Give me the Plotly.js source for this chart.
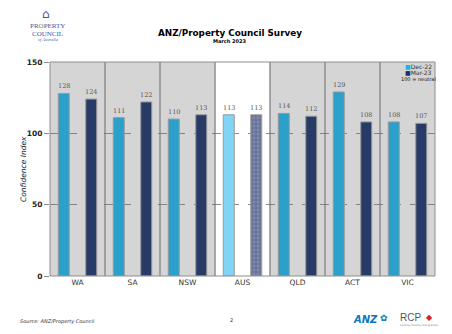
<!DOCTYPE html>
<html>
<head>
<meta charset="utf-8">
<script src="https://cdn.plot.ly/plotly-3.0.1.min.js"></script>
<style>html,body{margin:0;padding:0;background:#fff;}#chart{width:452px;height:334px;}</style>
</head>
<body>
<div id="chart"></div>
<script>
const categories = ['WA', 'SA', 'NSW', 'AUS', 'QLD', 'ACT', 'VIC'];
const dec22 = [128, 111, 110, 113, 114, 129, 108];
const mar23 = [124, 122, 113, 113, 112, 108, 107];
const yTicks = [0, 50, 100, 150];
const highlightCat = 'AUS';

const xIdx = categories.map((c, i) => i);
const isHi = categories.map(c => c === highlightCat);

const decColor = '#2ba0cb', marColor = '#283b66';
const decHi = '#80d4f6', marHi = '#7a87b3';
const labelFont = { family: 'DejaVu Serif', size: 6.5, color: '#555555' };

const traceDec = {
  type: 'bar', x: xIdx, y: dec22, name: 'Dec-22',
  marker: { color: isHi.map(h => h ? decHi : decColor), line: { color: '#9a9a9a', width: 1 } },
  hoverinfo: 'skip'
};
const traceMar = {
  type: 'bar', x: xIdx, y: mar23, name: 'Mar-23',
  marker: {
    color: isHi.map(h => h ? marHi : marColor),
    line: { color: '#9a9a9a', width: 1 },
    pattern: { shape: isHi.map(h => h ? '+' : ''), fillmode: 'overlay', fgcolor: '#a9b3d6', size: 4, solidity: 0.35 }
  },
  hoverinfo: 'skip'
};

const shapes = [];
categories.forEach((c, i) => {
  if (!isHi[i]) {
    shapes.push({ type: 'rect', xref: 'x', yref: 'paper', x0: i - 0.5, x1: i + 0.5, y0: 0, y1: 1,
      fillcolor: '#d5d5d5', line: { width: 0 }, layer: 'below' });
  }
});
for (let i = 0; i < categories.length - 1; i++) {
  shapes.push({ type: 'line', xref: 'x', yref: 'paper', x0: i + 0.5, x1: i + 0.5, y0: 0, y1: 1,
    line: { color: '#8e8e8e', width: 1.5 }, layer: 'below' });
}
shapes.push({ type: 'rect', xref: 'paper', yref: 'paper', x0: 0, x1: 1, y0: 0, y1: 1,
  line: { color: '#8e8e8e', width: 1 }, layer: 'above', fillcolor: 'rgba(0,0,0,0)' });

const P = (px) => (px - 50) / 385;
const Q = (py) => (276 - py) / 214;

// value labels drawn through the data axes
const valueLabels = [];
xIdx.forEach((xi, i) => {
  valueLabels.push({ text: String(dec22[i]), xref: 'x', yref: 'y', x: xi - 0.25, y: dec22[i], yshift: 1,
    showarrow: false, font: labelFont, xanchor: 'center', yanchor: 'bottom' });
  valueLabels.push({ text: String(mar23[i]), xref: 'x', yref: 'y', x: xi + 0.25, y: mar23[i], yshift: 1,
    showarrow: false, font: labelFont, xanchor: 'center', yanchor: 'bottom' });
});

const annotations = valueLabels.concat([
  { text: '<b>ANZ/Property Council Survey</b>', xref: 'paper', yref: 'paper', x: P(230), y: Q(33),
    showarrow: false, font: { family: 'DejaVu Sans', size: 8.8, color: '#000' }, xanchor: 'center', yanchor: 'middle' },
  { text: '<b>March 2023</b>', xref: 'paper', yref: 'paper', x: P(230), y: Q(40.5),
    showarrow: false, font: { family: 'DejaVu Sans', size: 5, color: '#000' }, xanchor: 'center', yanchor: 'middle' },
  { text: 'Confidence Index', xref: 'paper', yref: 'paper', x: P(23), y: 0.5, textangle: -90,
    showarrow: false, font: { family: 'DejaVu Sans', size: 7.5, color: '#222', style: 'italic' }, xanchor: 'center', yanchor: 'middle' },
  { text: '<span style="color:#1fb0e8">■</span>Dec-22', xref: 'paper', yref: 'paper', x: P(403), y: Q(66.5),
    showarrow: false, font: { family: 'DejaVu Sans', size: 6, color: '#333' }, xanchor: 'left', yanchor: 'middle' },
  { text: '<span style="color:#1f2f6b">■</span>Mar-23', xref: 'paper', yref: 'paper', x: P(403), y: Q(73),
    showarrow: false, font: { family: 'DejaVu Sans', size: 6, color: '#333' }, xanchor: 'left', yanchor: 'middle' },
  { text: '100 = neutral', xref: 'paper', yref: 'paper', x: P(418), y: Q(79),
    showarrow: false, font: { family: 'DejaVu Sans', size: 5, color: '#111' }, xanchor: 'center', yanchor: 'middle' },
  { text: 'Source: ANZ/Property Council', xref: 'paper', yref: 'paper', x: P(18), y: Q(321),
    showarrow: false, font: { family: 'DejaVu Sans', size: 5, color: '#333', style: 'italic' }, xanchor: 'left', yanchor: 'middle' },
  { text: '2', xref: 'paper', yref: 'paper', x: P(231), y: Q(320),
    showarrow: false, font: { family: 'DejaVu Sans', size: 5, color: '#333' }, xanchor: 'center', yanchor: 'middle' },
  { text: '<b><i>ANZ</i></b>', xref: 'paper', yref: 'paper', x: P(351), y: Q(319),
    showarrow: false, font: { family: 'DejaVu Sans', size: 10, color: '#0a78c0' }, xanchor: 'left', yanchor: 'middle' },
  { text: '<b>✿</b>', xref: 'paper', yref: 'paper', x: P(384), y: Q(318),
    showarrow: false, font: { family: 'DejaVu Sans', size: 9, color: '#0a78c0' }, xanchor: 'center', yanchor: 'middle' },
  { text: 'RCP', xref: 'paper', yref: 'paper', x: P(398), y: Q(317.5),
    showarrow: false, font: { family: 'Liberation Sans', size: 10, color: '#555' }, xanchor: 'left', yanchor: 'middle' },
  { text: '◆', xref: 'paper', yref: 'paper', x: P(429), y: Q(317.5),
    showarrow: false, font: { family: 'DejaVu Sans', size: 8, color: '#e0202a' }, xanchor: 'center', yanchor: 'middle' },
  { text: 'Leading Property Management', xref: 'paper', yref: 'paper', x: P(398), y: Q(325),
    showarrow: false, font: { family: 'DejaVu Sans', size: 2.5, color: '#888' }, xanchor: 'left', yanchor: 'middle' },
  { text: '⌂', xref: 'paper', yref: 'paper', x: P(46), y: Q(14.5),
    showarrow: false, font: { family: 'DejaVu Sans', size: 12, color: '#2f58a8' }, xanchor: 'center', yanchor: 'middle' },
  { text: 'PR<span style="color:#3aa64a">O</span>PERTY', xref: 'paper', yref: 'paper', x: P(47), y: Q(26.5),
    showarrow: false, font: { family: 'Liberation Serif', size: 7, color: '#3a5aa8' }, xanchor: 'center', yanchor: 'middle' },
  { text: 'COUNCIL', xref: 'paper', yref: 'paper', x: P(47), y: Q(33.5),
    showarrow: false, font: { family: 'Liberation Serif', size: 7, color: '#3a5aa8' }, xanchor: 'center', yanchor: 'middle' },
  { text: '<i>of Australia</i>', xref: 'paper', yref: 'paper', x: P(48), y: Q(39.5),
    showarrow: false, font: { family: 'Liberation Serif', size: 4.2, color: '#3a5aa8' }, xanchor: 'center', yanchor: 'middle' }
]);

const layout = {
  width: 452, height: 334,
  margin: { l: 50, r: 17, t: 62, b: 58, pad: 0 },
  paper_bgcolor: '#ffffff', plot_bgcolor: '#ffffff',
  showlegend: false,
  barmode: 'group', bargap: 0, bargroupgap: 0.6,
  xaxis: {
    range: [-0.5, categories.length - 0.5], tickvals: xIdx, ticktext: categories,
    showgrid: false, zeroline: false, ticks: '', showline: false,
    tickfont: { family: 'DejaVu Sans', size: 7.5, color: '#333' }, fixedrange: true
  },
  yaxis: {
    range: [0, 150], tickvals: yTicks, ticktext: yTicks.map(String),
    showgrid: true, gridcolor: '#6e6e6e', griddash: 'dash', gridwidth: 0.8,
    zeroline: false, ticks: 'outside', ticklen: 5, tickcolor: '#8e8e8e',
    showline: false, tickfont: { family: 'DejaVu Sans', size: 7.5, color: '#222', weight: 'bold' },
    fixedrange: true
  },
  shapes: shapes,
  annotations: annotations
};

Plotly.newPlot('chart', [traceDec, traceMar], layout, { staticPlot: true, displayModeBar: false });
</script>
</body>
</html>
